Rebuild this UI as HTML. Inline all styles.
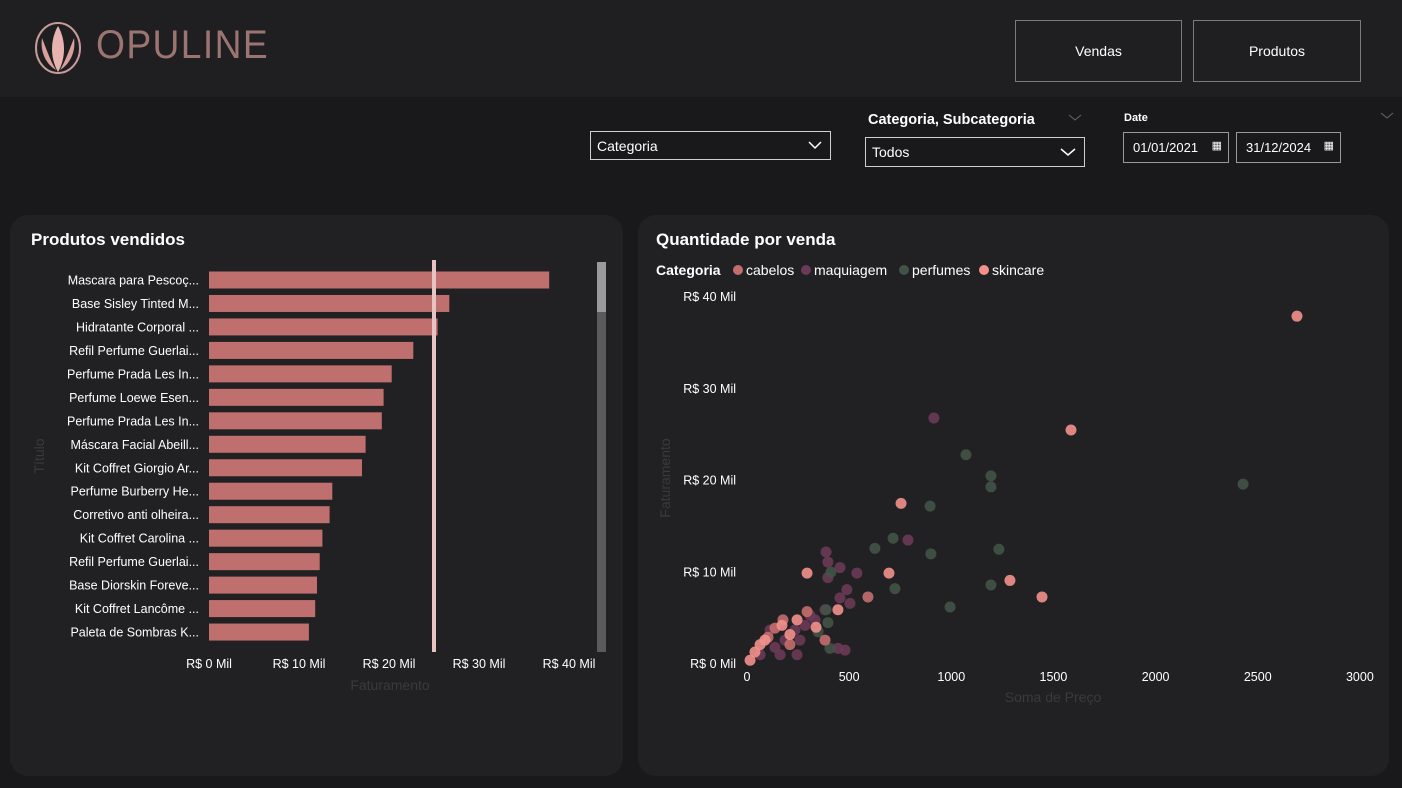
<!DOCTYPE html>
<html><head><meta charset="utf-8">
<style>
*{box-sizing:border-box;margin:0;padding:0}
body{width:1402px;height:788px;background:#19191b;font-family:"Liberation Sans",sans-serif;color:#fff;position:relative;overflow:hidden}
.abs{position:absolute}
.hdr{left:0;top:0;width:1402px;height:97px;background:#1f1f21}
.navbtn{border:1.5px solid #7a7a7a;font-size:14px;display:flex;align-items:center;justify-content:center;color:#fff}
.dd{border:1.5px solid #cfcfcf;font-size:14px;padding-left:6px;display:flex;align-items:center;background:#19191b}
.panel{background:#212123;border-radius:18px}
.ttl{font-weight:bold;font-size:17px}
</style></head><body>
<div class="abs hdr"></div>
<svg class="abs" style="left:32px;top:20px" width="52" height="56">
<ellipse cx="26" cy="28" rx="22" ry="25" fill="none" stroke="#c89a9a" stroke-width="2"/>
<path d="M26 6 C18 20 18 38 26 52 C34 38 34 20 26 6Z" fill="#e8b4b0"/>
<path d="M10 18 C8 32 14 44 24 50 C18 40 14 28 10 18Z" fill="#d9a09c"/>
<path d="M42 18 C44 32 38 44 28 50 C34 40 38 28 42 18Z" fill="#d9a09c"/>
</svg>
<div class="abs" style="left:96px;top:23px;font-size:40px;letter-spacing:1.5px;color:#9c7472;font-weight:normal;transform:scaleX(0.93);transform-origin:left">OPULINE</div>
<div class="abs navbtn" style="left:1015px;top:20px;width:167px;height:62px">Vendas</div>
<div class="abs navbtn" style="left:1193px;top:20px;width:168px;height:62px">Produtos</div>

<div class="abs dd" style="left:590px;top:131px;width:241px;height:29px">Categoria<svg class="abs" style="right:8px;top:9px" width="14" height="9"><polyline points="1,1 7,7 13,1" fill="none" stroke="#fff" stroke-width="1.5"/></svg></div>
<div class="abs" style="left:868px;top:112px;font-size:14.5px;font-weight:bold">Categoria, Subcategoria</div>
<svg class="abs" style="left:1068px;top:114px" width="14" height="8"><polyline points="1,1 7,6 13,1" fill="none" stroke="#666" stroke-width="1"/></svg>
<div class="abs dd" style="left:865px;top:137px;width:220px;height:30px">Todos<svg class="abs" style="right:8px;top:10px" width="16" height="9"><polyline points="1,1 8,7 15,1" fill="none" stroke="#fff" stroke-width="1.5"/></svg></div>
<div class="abs" style="left:1124px;top:112px;font-size:11px;font-weight:bold">Date</div>
<svg class="abs" style="left:1380px;top:112px" width="14" height="8"><polyline points="1,1 7,6 13,1" fill="none" stroke="#666" stroke-width="1"/></svg>
<div class="abs dd" style="left:1123px;top:132px;width:106px;height:31px;font-size:13px;padding-left:9px;border-color:#999">01/01/2021<span class="abs" style="right:6px;top:6px;font-size:11px">&#9638;</span></div>
<div class="abs dd" style="left:1236px;top:132px;width:105px;height:31px;font-size:13px;padding-left:9px;border-color:#999">31/12/2024<span class="abs" style="right:6px;top:6px;font-size:11px">&#9638;</span></div>

<div class="abs panel" style="left:10px;top:215px;width:613px;height:561px"></div>
<div class="abs ttl" style="left:31px;top:230px">Produtos vendidos</div>
<div class="abs panel" style="left:638px;top:215px;width:751px;height:561px"></div>
<div class="abs ttl" style="left:656px;top:230px">Quantidade por venda</div>

<svg id="bar" class="abs" style="left:0;top:0" width="640" height="788"></svg>
<svg id="sc" class="abs" style="left:0;top:0" width="1402" height="788"></svg>

<script>
const barLabels=["Mascara para Pescoç...","Base Sisley Tinted M...","Hidratante Corporal ...","Refil Perfume Guerlai...","Perfume Prada Les In...","Perfume Loewe Esen...","Perfume Prada Les In...","Máscara Facial Abeill...","Kit Coffret Giorgio Ar...","Perfume Burberry He...","Corretivo anti olheira...","Kit Coffret Carolina ...","Refil Perfume Guerlai...","Base Diorskin Foreve...","Kit Coffret Lancôme ...","Paleta de Sombras K..."];
const barValues=[37.8,26.7,25.4,22.7,20.3,19.4,19.2,17.4,17.0,13.7,13.4,12.6,12.3,12.0,11.8,11.1];
const barTicks=[0,10,20,30,40];

const catNames=["cabelos","maquiagem","perfumes","skincare"];
const catColors=["#c46d6d","#6b3a56","#415347","#f2908c"];
const cabelosX=[294,137,103,176,592,382,210];
const cabelosY=[5.6,3.8,2.8,4.7,7.2,2.5,2.0];
const maquiagemX=[915,788,538,387,396,455,396,489,455,504,382,308,235,186,137,259,113,64,162,245,445,480,333,284];
const maquiagemY=[26.7,13.4,9.8,12.1,11.0,10.4,9.3,8.0,7.1,6.5,5.8,5.2,3.6,2.5,1.7,2.5,3.6,0.9,0.9,0.9,1.6,1.4,4.7,4.1];
const perfumesX=[2428,1194,1194,1072,896,715,626,1233,900,724,994,1194,411,387,396,348,406];
const perfumesY=[19.5,20.4,19.2,22.7,17.1,13.6,12.5,12.4,11.9,8.1,6.1,8.5,9.9,5.8,4.4,3.4,1.6];
const skincareX=[2692,1586,754,1287,1444,294,695,445,338,245,210,171,64,39,15,88];
const skincareY=[37.8,25.4,17.4,9.0,7.2,9.8,9.8,5.8,3.9,4.7,3.1,4.1,2.0,1.2,0.3,2.5];
const xTicks=[0,500,1000,1500,2000,2500,3000];
const yTicks=[0,10,20,30,40];

const NS="http://www.w3.org/2000/svg";
function mk(p,tag,at,txt){const e=document.createElementNS(NS,tag);for(const k in at)e.setAttribute(k,at[k]);if(txt!==undefined)e.textContent=txt;p.appendChild(e);return e;}

const bar=document.getElementById('bar');
const bx=v=>209+v*9.0;
const by=i=>280+i*23.47;
barLabels.forEach((l,i)=>{
 const t=mk(bar,'text',{x:199,y:by(i)+4.5,'text-anchor':'end','font-size':12.5,fill:'#fff'},l);
 
 
 const r=mk(bar,'rect',{x:bx(0),y:by(i)-8.5,width:bx(barValues[i])-bx(0),height:17,fill:'#c06f6f'});
 
 
});
barTicks.forEach(v=>{
 const t=mk(bar,'text',{x:bx(v),y:668,'text-anchor':'middle','font-size':12.5,fill:'#fff'},'R$ '+v+' Mil');
 
 
});
let e=mk(bar,'text',{x:390,y:690,'text-anchor':'middle','font-size':14,fill:'#3a3a3c'},'Faturamento');


e=mk(bar,'text',{x:44,y:456,'text-anchor':'middle','font-size':14,fill:'#3a3a3c',transform:'rotate(-90 44 456)'},'Título');


e=mk(bar,'rect',{x:432,y:260,width:4,height:392,fill:'#e7c3c1'});


e=mk(bar,'rect',{x:597,y:262,width:9,height:390,fill:'#5a5a5c'});


e=mk(bar,'rect',{x:597,y:262,width:9,height:50,fill:'#9a9a9a'});



const sc=document.getElementById('sc');
const sx=v=>747+v*0.2043;
const sy=v=>663-v*9.175;
yTicks.forEach(v=>{
 const t=mk(sc,'text',{x:736,y:sy(v)+5,'text-anchor':'end','font-size':12.5,fill:'#fff'},'R$ '+v+' Mil');
 
 
});
xTicks.forEach(v=>{
 const t=mk(sc,'text',{x:sx(v),y:681,'text-anchor':'middle','font-size':12.5,fill:'#fff'},v);
 
 
});
e=mk(sc,'text',{x:1053,y:702,'text-anchor':'middle','font-size':14,fill:'#3a3a3c'},'Soma de Preço');


e=mk(sc,'text',{x:670,y:478,'text-anchor':'middle','font-size':14,fill:'#3a3a3c',transform:'rotate(-90 670 478)'},'Faturamento');


e=mk(sc,'text',{x:656,y:275,'font-size':14,'font-weight':'bold',fill:'#fff'},'Categoria');


const legX=[738,806,904,984];
catNames.forEach((n,i)=>{
 const c=mk(sc,'circle',{cx:legX[i],cy:270,r:5,fill:catColors[i]});
 
 
 const t=mk(sc,'text',{x:legX[i]+8,y:275,'font-size':14,fill:'#fff'},n);
 
 
});
const series=[[cabelosX,cabelosY],[maquiagemX,maquiagemY],[perfumesX,perfumesY],[skincareX,skincareY]];
[1,2,0,3].forEach(si=>{
 const [xs,ys]=series[si];
 xs.forEach((x,j)=>{
  const c=mk(sc,'circle',{cx:sx(x),cy:sy(ys[j]),r:5.5,fill:catColors[si],'fill-opacity':0.9});
  
  
 });
});
</script>
</body></html>
